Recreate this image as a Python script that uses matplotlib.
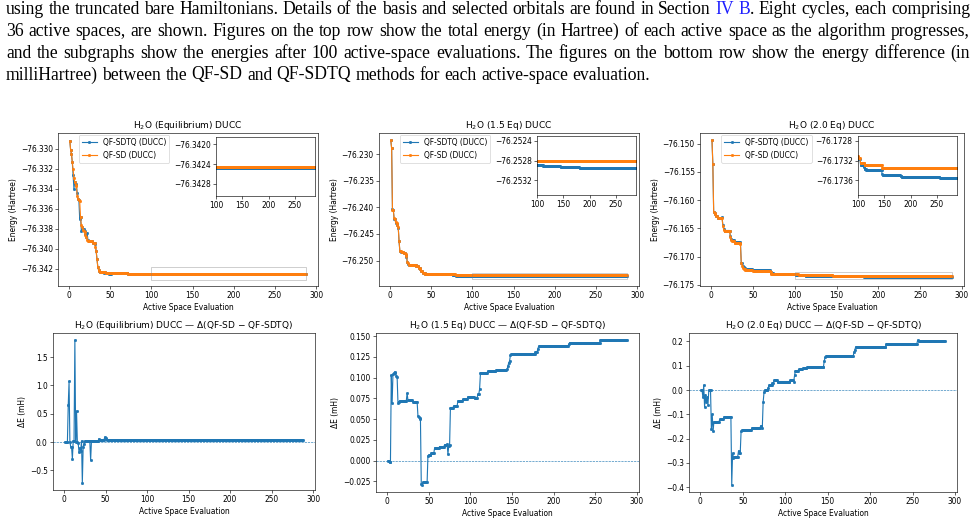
import re

import numpy as np
import matplotlib
matplotlib.use("Agg")
from matplotlib import pyplot as plt
from matplotlib.ticker import MultipleLocator

DPI = 54
W, H = 978, 524

# active space evaluations, 8 cycles x 36
evals = np.arange(1, 289)

# ---- H2O equilibrium: QF-SD energy (Hartree), stored as value / run length
eq_sd_vals = [-76.3292, -76.3301, -76.3305, -76.3313, -76.3320, -76.3329, -76.3333,
              -76.3336, -76.3337, -76.3347, -76.3350, -76.3351, -76.3352, -76.3368,
              -76.3376, -76.3378, -76.3381, -76.3382, -76.3383, -76.3386, -76.3388,
              -76.3391, -76.3392, -76.3394, -76.3398, -76.3402, -76.3410, -76.3418,
              -76.3421, -76.3422, -76.3423, -76.3424, -76.34246]
eq_sd_reps = [1] * 22 + [6, 3, 1, 1, 1, 1, 1, 1, 7, 27, 217]

# QF-SD - QF-SDTQ (milliHartree)
eq_dE_vals = [0.0, 0.65, 1.07, 0.0, -0.08, -0.30, 0.02, 1.80, 0.01, 0.55, 0.0, -0.02,
              -0.18, -0.10, -0.15, 0.02, -0.72, -0.08, -0.03, 0.02, -0.32, 0.02, 0.06,
              0.03, 0.09, 0.07, 0.05, 0.03]
eq_dE_reps = [4, 1, 1, 1, 2, 1, 2, 1, 1, 1, 1, 1, 1, 1, 1, 1, 1, 1, 1, 7, 1, 9, 1, 6,
              1, 1, 1, 237]

# ---- H2O 1.5 Eq
b15_sd_vals = [-76.2274, -76.2289, -76.2404, -76.2405, -76.2420, -76.2422, -76.2428,
               -76.2430, -76.2433, -76.2437, -76.2463, -76.2482, -76.2483, -76.2484,
               -76.2486, -76.2488, -76.2492, -76.2502, -76.2505, -76.2508, -76.2510,
               -76.2514, -76.2516, -76.2520, -76.2523, -76.2525, -76.2526, -76.25281]
b15_sd_reps = [1] * 13 + [3, 2, 1, 1, 1, 1, 9, 3, 2, 1, 2, 3, 13, 24, 209]

b15_dE_vals = [0.000, -0.001, -0.002, 0.103, 0.069, 0.104, 0.105, 0.107, 0.105, 0.102,
               0.101, 0.070, 0.071, 0.072, 0.081, 0.073, 0.071, 0.054, 0.052, 0.051,
               0.050, -0.028, -0.029, -0.026, 0.006, 0.007, 0.009, 0.015, 0.017, 0.019,
               0.020, 0.008, 0.018, 0.019, 0.064, 0.066, 0.072, 0.074, 0.077, 0.076,
               0.080, 0.086, 0.105, 0.106, 0.108, 0.109, 0.110, 0.114, 0.118, 0.120,
               0.127, 0.128, 0.131, 0.135, 0.138, 0.140, 0.142, 0.145]
b15_dE_reps = [2] + [1] * 12 + [9, 1, 6, 6, 1, 1, 1, 1, 1, 1, 6, 1, 3, 4, 6, 6, 3,
                                1, 1, 1, 1, 4, 5, 6, 6, 8, 4, 2, 1, 1, 8, 10, 13,
                                1, 1, 1, 1, 1, 29, 3, 1, 36, 1, 37, 33]

# ---- H2O 2.0 Eq
c20_sd_vals = [-76.1494, -76.1536, -76.1621, -76.1623, -76.1625, -76.1628, -76.1632,
               -76.1645, -76.1652, -76.1655, -76.1665, -76.1670, -76.1672, -76.1675,
               -76.1677, -76.1712, -76.1716, -76.1720, -76.1722, -76.1724, -76.1725,
               -76.1728, -76.1730, -76.1731, -76.17314, -76.17325, -76.1733, -76.17335]
c20_sd_reps = [1, 1, 1, 1, 1, 2, 6, 1, 1, 7, 1, 1, 3, 7, 1, 1, 1, 1, 2, 9, 21, 1, 9,
               20, 4, 8, 33, 143]

c20_dE_vals = [0.0, -0.03, 0.02, -0.07, -0.02, -0.05, -0.03, -0.06, 0.0, -0.16, -0.10,
               -0.17, -0.13, -0.12, -0.11, -0.39, -0.26, -0.28, -0.275, -0.25, -0.26,
               -0.17, -0.165, -0.155, -0.15, -0.155, -0.05, -0.01, 0.0, 0.01, 0.02,
               0.03, 0.04, 0.035, 0.04, 0.035, 0.06, 0.08, 0.085, 0.09, 0.095, 0.12,
               0.135, 0.14, 0.155, 0.165, 0.178, 0.19, 0.205, 0.203]
c20_dE_reps = [2, 1, 1, 1, 1, 1, 1, 1, 3, 1, 1, 1, 7, 5, 9, 1, 1, 1, 5, 1, 2, 1, 12,
               10, 2, 1, 1, 1, 4, 1, 4, 2, 4, 15, 4, 1, 1, 4, 5, 5, 20, 1, 1, 33, 1,
               1, 36, 37, 1, 32]

titles = ["H$_2$O (Equilibrium) DUCC", "H$_2$O (1.5 Eq) DUCC", "H$_2$O (2.0 Eq) DUCC"]

caption = [
    "using the truncated bare Hamiltonians. Details of the basis and selected orbitals "
    "are found in Section {IV} {B}. Eight cycles, each comprising",
    "36 active spaces, are shown. Figures on the top row show the total energy (in Hartree) "
    "of each active space as the algorithm progresses,",
    "and the subgraphs show the energies after 100 active-space evaluations. The figures on "
    "the bottom row show the energy difference (in",
    "milliHartree) between the QF-SD and QF-SDTQ methods for each active-space evaluation.",
]


def px_rect(x0, y0, x1, y1):
    # pixel box (top-left origin) -> figure fraction rect
    return [x0 / W, 1 - y1 / H, (x1 - x0) / W, (y1 - y0) / H]


fig = plt.figure(figsize=(W / DPI, H / DPI), dpi=DPI)

top_rects = [px_rect(58, 133, 318, 286), px_rect(379, 133, 639, 286), px_rect(700, 133, 964, 286)]
bot_rects = [px_rect(53, 333, 315, 490), px_rect(376, 333, 639, 492), px_rect(689, 333, 957, 492)]
inset_rects = [[0.607, 0.588, 0.381, 0.386], [0.607, 0.595, 0.381, 0.386], [0.598, 0.595, 0.375, 0.386]]
main_ylims = [(-76.3437, -76.3284), (-76.2548, -76.2260), (-76.1752, -76.1481)]
main_steps = [0.002, 0.005, 0.005]
inset_centers = [-76.34245, -76.2529, -76.1733]

sd_all = [np.repeat(eq_sd_vals, eq_sd_reps), np.repeat(b15_sd_vals, b15_sd_reps),
          np.repeat(c20_sd_vals, c20_sd_reps)]
dE_all = [np.repeat(eq_dE_vals, eq_dE_reps), np.repeat(b15_dE_vals, b15_dE_reps),
          np.repeat(c20_dE_vals, c20_dE_reps)]

for i in range(3):
    sd = sd_all[i]
    dE = dE_all[i]
    sdtq = sd - dE / 1000.0

    ax = fig.add_axes(top_rects[i])
    ax.plot(evals, sdtq, "-o", ms=3, color="C0", label="QF-SDTQ (DUCC)")
    ax.plot(evals, sd, "-o", ms=3, color="C1", label="QF-SD (DUCC)")
    ax.set_ylim(*main_ylims[i])
    ax.yaxis.set_major_locator(MultipleLocator(main_steps[i]))
    ax.ticklabel_format(axis="y", useOffset=False)
    ax.set_title(titles[i])
    ax.set_xlabel("Active Space Evaluation")
    ax.set_ylabel("Energy (Hartree)")
    ax.legend(loc="upper left", bbox_to_anchor=(0.066, 1.012))

    ins = ax.inset_axes(inset_rects[i])
    ins.plot(evals, sdtq, "-o", ms=3, color="C0")
    ins.plot(evals, sd, "-o", ms=3, color="C1")
    lo, hi = inset_centers[i] - 0.0006, inset_centers[i] + 0.0006
    ins.set_xlim(100, 288)
    ins.set_ylim(lo, hi)
    ins.set_xticks([100, 150, 200, 250])
    ins.yaxis.set_major_locator(MultipleLocator(0.0004))
    ins.ticklabel_format(axis="y", useOffset=False)
    ax.indicate_inset((100, lo, 188, hi - lo), edgecolor="0.5")

    bx = fig.add_axes(bot_rects[i])
    bx.plot(evals, dE, "-o", ms=3, color="C0")
    bx.axhline(0, ls="--", lw=0.8, color="C0")
    bx.set_title(titles[i] + " \u2014 \u0394(QF-SD \u2212 QF-SDTQ)")
    bx.set_xlabel("Active Space Evaluation")
    bx.set_ylabel("\u0394E (mH)")

# caption text above the panels, justified like the paper
LINK = "#1f1fff"
X0, X1 = 6, 970
line_y = [10, 31.5, 53, 75]
r = fig.canvas.get_renderer()


def segments(word):
    out = []
    for part in re.split(r"(\{[^}]*\})", word):
        if not part:
            continue
        if part.startswith("{"):
            out.append((part[1:-1], LINK))
        else:
            out.append((part, "black"))
    return out


def natural_width(text, fs):
    t = fig.text(0, 0, text.replace("{", "").replace("}", ""), fontsize=fs,
                 family="Liberation Serif")
    w = t.get_window_extent(r).width
    t.remove()
    return w


cap_fs = 10 * 651 / natural_width(caption[3], 10)
widest = max(natural_width(c, cap_fs) for c in caption[:3])
if widest > (X1 - X0):
    cap_fs *= (X1 - X0) / widest
space_px = 0.25 * cap_fs * DPI / 72

for n, text in enumerate(caption):
    words = [segments(w) for w in text.split()]
    arts = [[fig.text(0, 0, s, color=c, fontsize=cap_fs, family="Liberation Serif",
                      va="center", ha="left") for s, c in w] for w in words]
    widths = [[t.get_window_extent(r).width for t in w] for w in arts]
    total = sum(sum(w) for w in widths)
    if n < 3:
        gap = (X1 - X0 - total) / (len(words) - 1)
    else:
        gap = space_px
    x = X0
    for w, ws in zip(arts, widths):
        for t, wd in zip(w, ws):
            t.set_position((x / W, 1 - line_y[n] / H))
            x += wd
        x += gap

fig.savefig("out.png", dpi=DPI)
